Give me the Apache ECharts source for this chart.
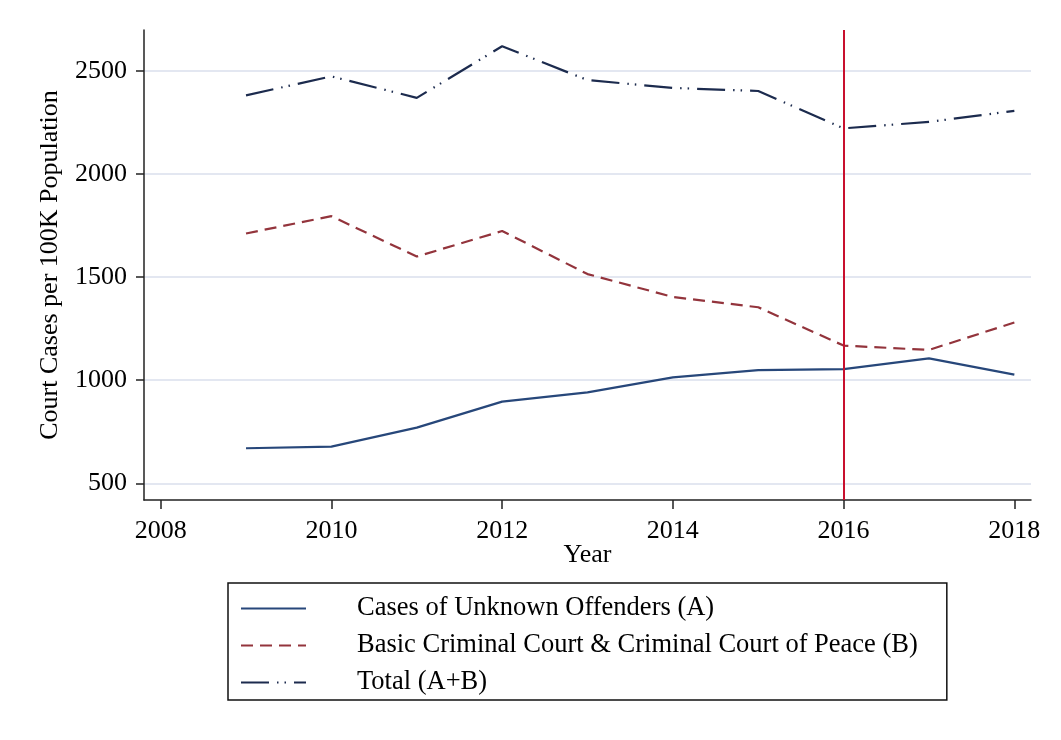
<!DOCTYPE html>
<html>
<head>
<meta charset="utf-8">
<script src="https://cdn.jsdelivr.net/npm/echarts@6/dist/echarts.min.js"></script>
<style>
  html, body { margin: 0; padding: 0; background: #fff; }
  #chart { width: 1061px; height: 740px; }
</style>
</head>
<body>
<div id="chart"></div>
<script>
// Court cases per 100K population, 2009-2018
const years = [2009, 2010, 2011, 2012, 2013, 2014, 2015, 2016, 2017, 2018];
const unknownOffenders = [670, 678, 770, 896, 941, 1014, 1049, 1054, 1106, 1027];
const basicCriminal = [1712, 1796, 1600, 1724, 1515, 1404, 1354, 1168, 1147, 1280];
const totalCases = [2382, 2474, 2370, 2620, 2456, 2418, 2403, 2222, 2253, 2307];
const xTicks = [2008, 2010, 2012, 2014, 2016, 2018];
const yTicks = [500, 1000, 1500, 2000, 2500];
const reformYear = 2016;

const FONT = '"Liberation Serif", "DejaVu Serif", serif';
const pairs = (vals) => years.map((y, i) => [y, vals[i]]);
const plain = (v) => String(v);

const chart = echarts.init(document.getElementById('chart'), null, { renderer: 'canvas' });

chart.setOption({
  backgroundColor: '#ffffff',
  animation: false,
  textStyle: { fontFamily: FONT, color: '#000' },
  grid: { left: 144, right: 30, top: 30, bottom: 240, containLabel: false },
  xAxis: {
    type: 'value',
    min: 2007.805,
    max: 2018.195,
    name: 'Year',
    nameLocation: 'middle',
    nameGap: 42,
    nameMoveOverlap: false,
    nameTextStyle: { fontFamily: FONT, fontSize: 26, color: '#000' },
    axisLine: { show: true, onZero: false, lineStyle: { color: '#222', width: 1.5 } },
    axisTick: { show: true, length: 9, customValues: xTicks, lineStyle: { color: '#222', width: 1.5 } },
    axisLabel: { customValues: xTicks, formatter: plain, margin: 18, fontFamily: FONT, fontSize: 26, color: '#000' },
    splitLine: { show: false }
  },
  yAxis: {
    type: 'value',
    min: 419,
    max: 2699,
    name: 'Court Cases per 100K Population',
    nameLocation: 'middle',
    nameGap: 81,
    nameMoveOverlap: false,
    nameTextStyle: { fontFamily: FONT, fontSize: 26, color: '#000' },
    axisLine: { show: true, onZero: false, lineStyle: { color: '#222', width: 1.5 } },
    axisTick: { show: true, length: 8, customValues: yTicks, lineStyle: { color: '#222', width: 1.5 } },
    axisLabel: { customValues: yTicks, formatter: plain, margin: 17, fontFamily: FONT, fontSize: 26, color: '#000' },
    splitLine: { show: true, lineStyle: { color: '#e3e7f1', width: 2 } }
  },
  legend: {
    orient: 'vertical',
    left: 228,
    top: 583,
    padding: [12, 29, 4, 12],
    itemGap: 10,
    itemWidth: 65,
    itemHeight: 26,
    borderColor: '#111',
    borderWidth: 1.5,
    textStyle: { fontFamily: FONT, fontSize: 26.5, lineHeight: 26, color: '#000', padding: [0, 0, 0, 46] },
    itemStyle: { opacity: 0 },
    data: ['Cases of Unknown Offenders (A)', 'Basic Criminal Court & Criminal Court of Peace (B)', 'Total (A+B)']
  },
  series: [
    {
      name: 'Cases of Unknown Offenders (A)',
      type: 'line',
      data: pairs(unknownOffenders),
      symbol: 'none',
      lineStyle: { color: '#27477a', width: 2.2 },
      itemStyle: { color: '#27477a' },
      markLine: {
        silent: true,
        symbol: ['none', 'none'],
        label: { show: false },
        lineStyle: { color: '#c8102e', width: 2, type: 'solid' },
        data: [{ xAxis: reformYear }]
      },
      z: 3
    },
    {
      name: 'Basic Criminal Court & Criminal Court of Peace (B)',
      type: 'line',
      data: pairs(basicCriminal),
      symbol: 'none',
      lineStyle: { color: '#93343c', width: 2.2, type: [12, 7] },
      itemStyle: { color: '#93343c' },
      z: 3
    },
    {
      name: 'Total (A+B)',
      type: 'line',
      data: pairs(totalCases),
      symbol: 'none',
      lineStyle: { color: '#1c2b4e', width: 2.2, type: [28, 8, 1.5, 6, 1.5, 8] },
      itemStyle: { color: '#1c2b4e' },
      z: 3
    }
  ]
});
</script>
</body>
</html>
